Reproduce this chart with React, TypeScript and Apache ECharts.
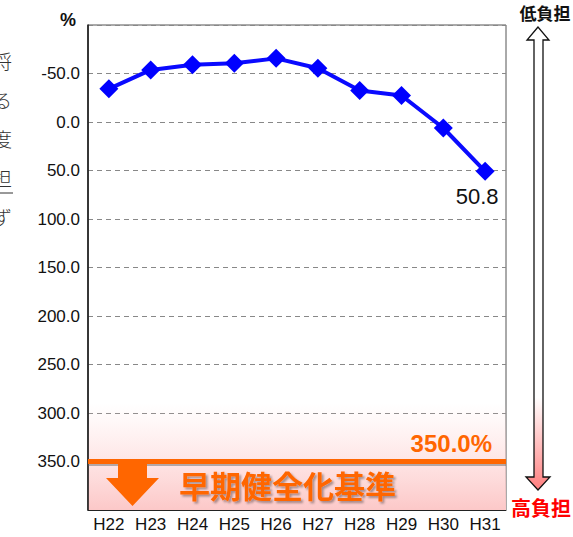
import React, { useEffect, useRef } from "react";
import * as echarts from "echarts";

const categories = ["H22", "H23", "H24", "H25", "H26", "H27", "H28", "H29", "H30", "H31"];
const ratioValues = [-34.2, -53.7, -59.1, -60.5, -65.6, -55.4, -32.5, -27.3, 6.2, 50.8];
const criterionValue = 350;
const yMin = -100;
const yMax = 400;
const yInterval = 50;
const sideChars = ["将", "る", "度", "担", "ず"];

const ORANGE = "#ff6600";

export default function App() {
  const ref = useRef<HTMLDivElement>(null);
  useEffect(() => {
    if (!ref.current) return;
    const chart = echarts.init(ref.current, undefined, { renderer: "svg" });
    const lastIdx = ratioValues.length - 1;
    const graphics: any[] = [
      {
        type: "text",
        left: 60,
        top: 11,
        style: { text: "%", font: "bold 18px 'Liberation Sans', Arial", fill: "#111" },
      },
      // down arrow
      {
        type: "polygon",
        shape: {
          points: [
            [118, 462], [147, 462], [147, 478], [159, 478], [132.5, 506], [106, 478], [118, 478],
          ],
        },
        style: { fill: ORANGE },
        z: 10,
      },
      {
        type: "text",
        x: 179,
        y: 484,
        style: {
          text: "早期健全化基準",
          font: "bold 31px 'Noto Sans CJK JP'",
          fill: ORANGE,
          textVerticalAlign: "middle",
          textShadowColor: "rgba(0,0,0,0.35)",
          textShadowOffsetX: 2,
          textShadowOffsetY: 2,
          textShadowBlur: 2,
        },
        z: 10,
      },
      {
        type: "text",
        x: 492,
        y: 443,
        style: {
          text: "350.0%",
          font: "bold 24px 'Liberation Sans', Arial",
          fill: ORANGE,
          textAlign: "right",
          textVerticalAlign: "middle",
        },
        z: 10,
      },
      // right double arrow
      {
        type: "polygon",
        shape: {
          points: [
            [538, 27], [527, 40], [534, 40], [534, 477], [526, 477], [538, 490],
            [550, 477], [543, 477], [543, 40], [549, 40],
          ],
        },
        style: {
          fill: new echarts.graphic.LinearGradient(0, 0, 0, 1, [
            { offset: 0, color: "#ffffff" },
            { offset: 0.8, color: "#ffffff" },
            { offset: 1, color: "#ff7f7f" },
          ]),
          stroke: "#111",
          lineWidth: 1.3,
        },
      },
      {
        type: "text",
        x: 545,
        y: 12,
        style: {
          text: "低負担",
          font: "bold 17px 'Noto Sans CJK JP'",
          fill: "#111",
          textAlign: "center",
          textVerticalAlign: "middle",
        },
      },
      {
        type: "text",
        x: 541,
        y: 507,
        style: {
          text: "高負担",
          font: "bold 20px 'Noto Sans CJK JP'",
          fill: "#ff0000",
          textAlign: "center",
          textVerticalAlign: "middle",
        },
      },
    ];
    sideChars.forEach((c, i) => {
      graphics.push({
        type: "text",
        x: -7,
        y: 60 + i * 39,
        style: {
          text: c,
          font: "300 19px 'Noto Sans CJK JP'",
          fill: "#333",
          textVerticalAlign: "middle",
        },
      });
    });
    graphics.push({
      type: "line",
      shape: { x1: 0, y1: 193, x2: 13, y2: 193 },
      style: { stroke: "#333", lineWidth: 1 },
    });

    chart.setOption({
      animation: false,
      backgroundColor: "#ffffff",
      grid: {
        left: 88,
        top: 25,
        width: 418,
        height: 485,
        show: true,
        borderColor: "#555",
        borderWidth: 1,
        containLabel: false,
      },
      xAxis: {
        type: "category",
        data: categories,
        boundaryGap: true,
        axisLine: { onZero: false, lineStyle: { color: "#222", width: 1 } },
        axisTick: { show: false },
        axisLabel: {
          color: "#111",
          fontSize: 17,
          fontFamily: "'Liberation Sans', Arial",
          margin: 6,
        },
      },
      yAxis: {
        type: "value",
        inverse: true,
        min: yMin,
        max: yMax,
        interval: yInterval,
        axisLine: { show: true, lineStyle: { color: "#111", width: 1.5 } },
        axisTick: { show: false },
        axisLabel: {
          color: "#111",
          fontSize: 17,
          fontFamily: "'Liberation Sans', Arial",
          margin: 8,
          formatter: (v: number) => (v === yMin || v === yMax ? "" : v.toFixed(1)),
        },
        splitLine: { lineStyle: { color: "#888", type: [5, 4], width: 1 } },
      },
      series: [
        {
          type: "line",
          data: ratioValues.map((v, i) =>
            i === lastIdx
              ? {
                  value: v,
                  label: {
                    show: true,
                    position: "bottom",
                    distance: 5,
                    offset: [-8, 0],
                    formatter: (p: any) => p.value.toFixed(1),
                    color: "#111",
                    fontSize: 22,
                    fontFamily: "'Liberation Sans', Arial",
                  },
                }
              : v
          ),
          color: "#0000ff",
          lineStyle: { color: "#0a0aff", width: 4 },
          symbol: "diamond",
          symbolSize: 19,
          itemStyle: { color: "#0000ff" },
          z: 5,
          markArea: {
            silent: true,
            itemStyle: {
              color: new echarts.graphic.LinearGradient(0, 0, 0, 1, [
                { offset: 0, color: "rgba(255,215,215,0)" },
                { offset: 1, color: "rgba(252,200,200,1)" },
              ]),
            },
            data: [[{ yAxis: 290 }, { yAxis: yMax }]],
            z: 0,
          },
          markLine: {
            silent: true,
            symbol: "none",
            label: { show: false },
            lineStyle: { color: ORANGE, width: 5, type: "solid" },
            data: [
              {
                yAxis: criterionValue + 2.5,
                lineStyle: { color: "rgba(90,90,90,0.45)", width: 4, type: "solid" },
              },
              { yAxis: criterionValue },
            ],
          },
        },
      ],
      graphic: graphics,
    });
    return () => chart.dispose();
  }, []);
  return (
    <div
      ref={ref}
      style={{ width: 573, height: 537, position: "fixed", left: 0, top: 0 }}
    />
  );
}
